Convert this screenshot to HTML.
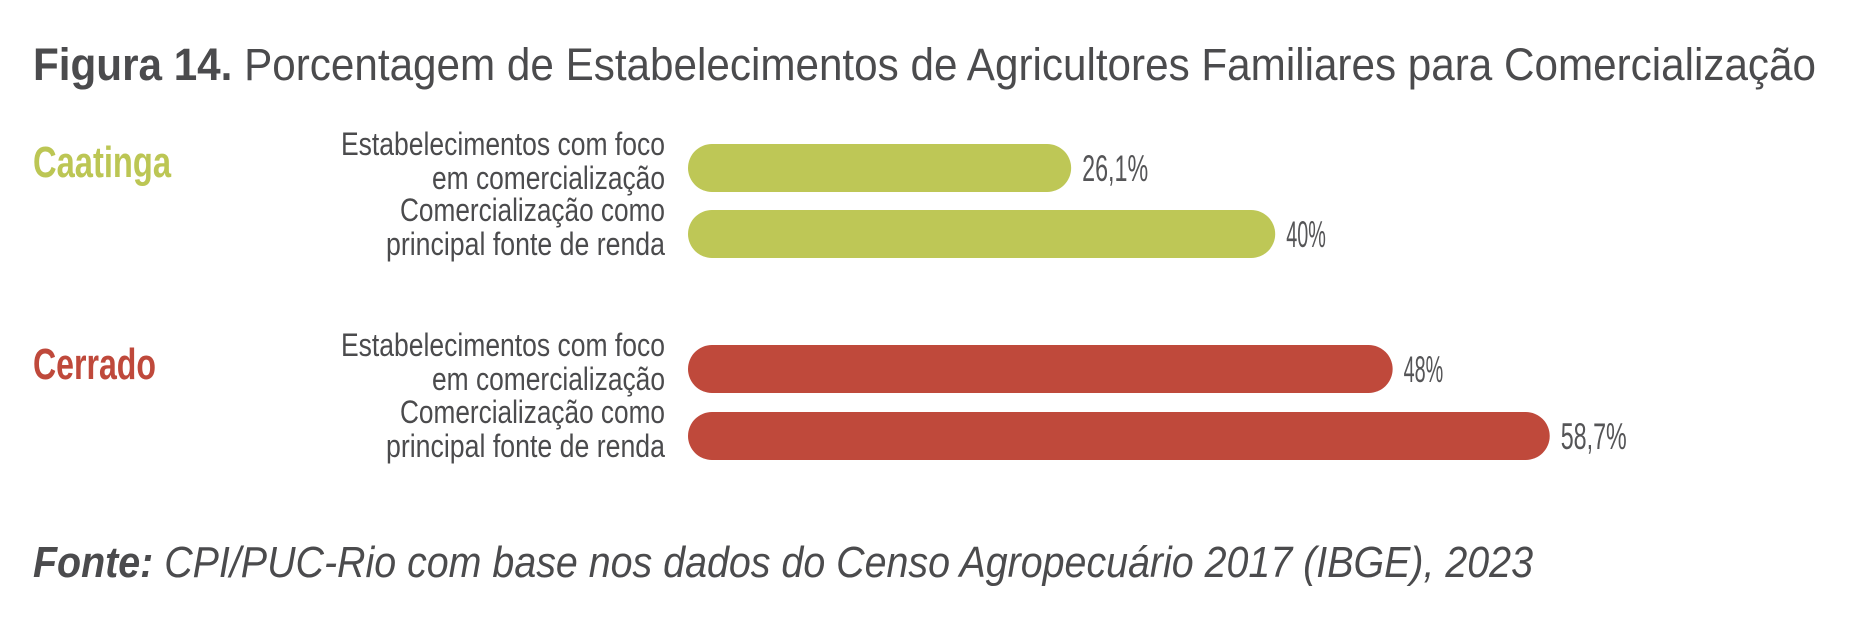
<!DOCTYPE html>
<html><head><meta charset="utf-8"><style>
html,body{margin:0;padding:0;background:#fff;}
svg{display:block;font-family:"Liberation Sans",sans-serif;}
</style></head><body>
<svg width="1855" height="627" viewBox="0 0 1855 627">
<text x="33" y="80" font-size="45" fill="#4b4b4d" textLength="1783" lengthAdjust="spacingAndGlyphs"><tspan font-weight="bold">Figura 14.</tspan> Porcentagem de Estabelecimentos de Agricultores Familiares para Comercialização</text>
<text x="33" y="177" font-size="44" font-weight="bold" fill="#bcc654" textLength="138" lengthAdjust="spacingAndGlyphs">Caatinga</text>
<text x="33" y="379" font-size="44" font-weight="bold" fill="#bf493b" textLength="123" lengthAdjust="spacingAndGlyphs">Cerrado</text>
<g id="bars"></g>
<text x="33" y="577" font-size="44" font-style="italic" fill="#4b4b4d" textLength="1500" lengthAdjust="spacingAndGlyphs"><tspan font-weight="bold">Fonte:</tspan> CPI/PUC-Rio com base nos dados do Censo Agropecuário 2017 (IBGE), 2023</text>
</svg>
<script>
const labelLine1 = ["Estabelecimentos com foco","Comercialização como","Estabelecimentos com foco","Comercialização como"];
const labelLine2 = ["em comercialização","principal fonte de renda","em comercialização","principal fonte de renda"];
const values = [26.1, 40, 48, 58.7];
const valueLabels = ["26,1%","40%","48%","58,7%"];
const groups = ["caatinga","caatinga","cerrado","cerrado"];

const colors = {caatinga:"#bec756", cerrado:"#bf493b"};
const x0 = 688, pxPerPct = 14.68;
const barTops = [144, 210, 345, 412];
const barH = 48;
const w1 = {"Estabelecimentos com foco":324,"Comercialização como":265};
const w2 = {"em comercialização":233,"principal fonte de renda":279};
const xScale = v => v * pxPerPct;
const NS = "http://www.w3.org/2000/svg";
const g = document.getElementById("bars");
function mk(tag, attrs){const e=document.createElementNS(NS,tag);for(const k in attrs)e.setAttribute(k,attrs[k]);return e;}
values.forEach((v,i)=>{
  const y = barTops[i], w = xScale(v);
  const r = mk("rect",{x:x0,y:y,width:w,height:barH,rx:24,ry:24,fill:colors[groups[i]]});
  
  
  g.appendChild(r);
  const t = mk("text",{x:x0+w+11,y:y+barH/2+13,"font-size":37,fill:"#555557",textLength:valueLabels[i].length*13.2,lengthAdjust:"spacingAndGlyphs"});
  t.textContent = valueLabels[i];
  
  
  g.appendChild(t);
  const l1 = mk("text",{x:665,y:y+11,"font-size":32,fill:"#4b4b4d","text-anchor":"end",textLength:w1[labelLine1[i]],lengthAdjust:"spacingAndGlyphs"});
  l1.textContent = labelLine1[i];
  
  
  g.appendChild(l1);
  const l2 = mk("text",{x:665,y:y+45,"font-size":32,fill:"#4b4b4d","text-anchor":"end",textLength:w2[labelLine2[i]],lengthAdjust:"spacingAndGlyphs"});
  l2.textContent = labelLine2[i];
  
  
  g.appendChild(l2);
});
</script>
</body></html>
